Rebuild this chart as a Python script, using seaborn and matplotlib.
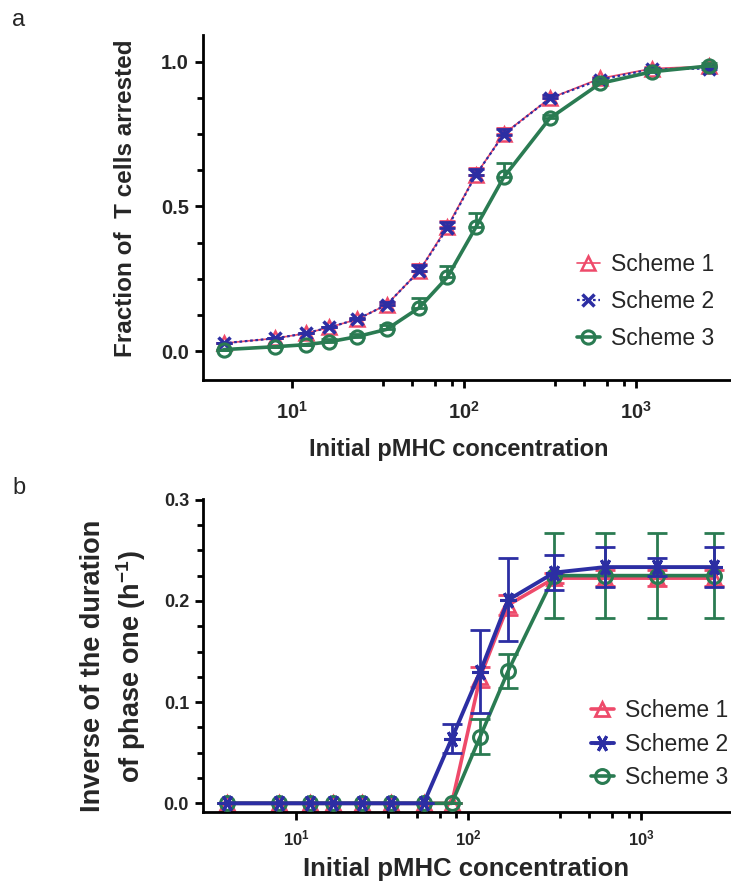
import numpy as np
import pandas as pd
import matplotlib
matplotlib.use("Agg")
import matplotlib.pyplot as plt
import matplotlib.ticker as mticker
import seaborn as sns

# ---------------- data ----------------
conc = [4, 8, 12, 16.5, 24, 35.5, 55, 80, 117, 170, 315, 620, 1240, 2650]
schemes = ["Scheme 1", "Scheme 2", "Scheme 3"]

# panel a: fraction of T cells arrested
frac_s1 = [0.027, 0.044, 0.061, 0.082, 0.11, 0.16, 0.277, 0.43, 0.608, 0.75, 0.873, 0.942, 0.976, 0.984]
frac_s2 = [0.027, 0.044, 0.061, 0.082, 0.11, 0.16, 0.277, 0.425, 0.608, 0.748, 0.873, 0.938, 0.974, 0.976]
frac_s3 = [0.005, 0.015, 0.022, 0.032, 0.05, 0.075, 0.15, 0.255, 0.427, 0.60, 0.804, 0.925, 0.965, 0.985]
frac_err_s1 = [0, 0, 0, 0, 0.005, 0.01, 0.025, 0.02, 0.025, 0.02, 0.01, 0.005, 0.005, 0.005]
frac_err_s2 = [0, 0, 0, 0, 0.005, 0.01, 0.02, 0.02, 0.02, 0.02, 0.01, 0.005, 0.005, 0.005]
frac_err_s3 = [0, 0, 0, 0.01, 0.01, 0.015, 0.035, 0.04, 0.05, 0.05, 0.01, 0.01, 0.01, 0.01]

# panel b: inverse duration of phase one (1/h)
inv_s1 = [0, 0, 0, 0, 0, 0, 0, 0, 0.125, 0.196, 0.2225, 0.2225, 0.2225, 0.2225]
inv_s2 = [0, 0, 0, 0, 0, 0, 0, 0.064, 0.130, 0.201, 0.228, 0.2334, 0.2334, 0.2334]
inv_s3 = [0, 0, 0, 0, 0, 0, 0, 0, 0.066, 0.131, 0.225, 0.225, 0.225, 0.225]
inv_err_s1 = [0, 0, 0, 0, 0, 0, 0, 0, 0.01, 0.01, 0.005, 0.008, 0.008, 0.008]
inv_err_s2 = [0, 0, 0, 0, 0, 0, 0, 0.014, 0.041, 0.041, 0.017, 0.02, 0.009, 0.02]
inv_err_s3 = [0, 0, 0, 0, 0, 0, 0, 0, 0.017, 0.017, 0.042, 0.042, 0.042, 0.042]

xtick_vals = [10, 100, 1000]
xtick_labels = ["$10^{1}$", "$10^{2}$", "$10^{3}$"]

# ---------------- style ----------------
sns.set_theme(style="ticks")
plt.rcParams["font.family"] = ["Liberation Sans", "DejaVu Sans"]
plt.rcParams["mathtext.fontset"] = "custom"
plt.rcParams["mathtext.rm"] = "Liberation Sans:bold"
plt.rcParams["mathtext.bf"] = "Liberation Sans:bold"
plt.rcParams["mathtext.it"] = "Liberation Sans:bold"
plt.rcParams["mathtext.default"] = "bf"

RED = "#ee4a6a"
BLUE = "#2c2ea3"
GREEN = "#2a7b52"

W, H = 731, 884
fig = plt.figure(figsize=(W / 100, H / 100), dpi=100)

def px_axes(left, top, right, bottom):
    return fig.add_axes([left / W, 1 - bottom / H, (right - left) / W, (bottom - top) / H])

ax_a = px_axes(203, 35, 760, 380)
ax_b = px_axes(203, 499, 760, 812)

def style_axis(ax, xlim, ylim, ymajor, yminor, xlabelsize, ylabelsize, xpad, ypad):
    ax.set_xscale("log")
    ax.set_xlim(*xlim)
    ax.set_ylim(*ylim)
    for s in ["top", "right"]:
        ax.spines[s].set_visible(False)
    for s in ["left", "bottom"]:
        ax.spines[s].set_linewidth(2.0)
        ax.spines[s].set_color("black")
    ax.xaxis.set_major_locator(mticker.FixedLocator(xtick_vals))
    ax.xaxis.set_major_formatter(mticker.FixedFormatter(xtick_labels))
    minors = [m * d for d in (10, 100) for m in (3.4, 5.0, 6.8, 8.5)]
    ax.xaxis.set_minor_locator(mticker.FixedLocator(minors))
    ax.xaxis.set_minor_formatter(mticker.NullFormatter())
    ax.yaxis.set_major_locator(mticker.MultipleLocator(ymajor))
    ax.yaxis.set_minor_locator(mticker.MultipleLocator(yminor))
    ax.yaxis.set_major_formatter(mticker.FormatStrFormatter("%.1f"))
    ax.tick_params(axis="both", which="major", direction="out", length=6, width=2, color="black")
    ax.tick_params(axis="both", which="minor", direction="out", length=4, width=2, color="black")
    ax.tick_params(axis="x", which="major", pad=xpad, labelsize=xlabelsize)
    ax.tick_params(axis="y", which="major", pad=ypad, labelsize=ylabelsize)
    for lab in ax.get_xticklabels() + ax.get_yticklabels():
        lab.set_fontweight("bold")

# ---------------- panel a ----------------
df_a = pd.DataFrame({
    "conc": conc * 3,
    "value": frac_s1 + frac_s2 + frac_s3,
    "err": frac_err_s1 + frac_err_s2 + frac_err_s3,
    "scheme": [s for s in schemes for _ in conc],
})
style_a = {
    "Scheme 1": dict(color=RED, marker="^", ls="-", lw=1.2, ms=10, mew=1.8, z=2),
    "Scheme 2": dict(color=BLUE, marker="x", ls=(0, (1.2, 1.2)), lw=1.6, ms=9, mew=2.5, z=3),
    "Scheme 3": dict(color=GREEN, marker="o", ls="-", lw=2.6, ms=9.5, mew=2.2, z=4),
}
for s in schemes:
    d = df_a[df_a["scheme"] == s]
    st = style_a[s]
    ax_a.errorbar(d["conc"], d["value"], yerr=[np.zeros(len(d)), d["err"]], fmt="none",
                  ecolor=st["color"], elinewidth=2, capsize=6, capthick=2, zorder=st["z"])
    sns.lineplot(data=d, x="conc", y="value", ax=ax_a, color=st["color"], marker=st["marker"],
                 linestyle=st["ls"], linewidth=st["lw"], markersize=st["ms"],
                 markeredgewidth=st["mew"], markerfacecolor="none", markeredgecolor=st["color"],
                 label=s, zorder=st["z"] + 0.5, errorbar=None)

style_axis(ax_a, (10 ** 0.4826, 10 ** 3.721), (-0.100, 1.092), 0.5, 0.125, 14.5, 14.5, 9, 4)
ax_a.set_xlabel("Initial pMHC concentration", fontsize=17, fontweight="bold")
ax_a.xaxis.set_label_coords(0.46, -0.168)
ax_a.set_ylabel("Fraction of  T cells arrested", fontsize=17.5, fontweight="bold")
ax_a.yaxis.set_label_coords(-0.118, 0.527)
leg_a = ax_a.legend(loc="upper left", bbox_to_anchor=(0.655, 0.394), frameon=False,
                    fontsize=16.5, handlelength=1.0, handletextpad=0.5, labelspacing=0.6,
                    borderaxespad=0)

# ---------------- panel b ----------------
df_b = pd.DataFrame({
    "conc": conc * 3,
    "value": inv_s1 + inv_s2 + inv_s3,
    "err": inv_err_s1 + inv_err_s2 + inv_err_s3,
    "scheme": [s for s in schemes for _ in conc],
})
style_b = {
    "Scheme 1": dict(color=RED, marker="^", ls="-", lw=2.6, ms=10, mew=2.0, z=2),
    "Scheme 2": dict(color=BLUE, marker=(6, 2, 90), ls="-", lw=2.8, ms=12, mew=2.2, z=4),
    "Scheme 3": dict(color=GREEN, marker="o", ls="-", lw=2.6, ms=10, mew=2.2, z=3),
}
for s in schemes:
    d = df_b[df_b["scheme"] == s]
    st = style_b[s]
    ax_b.errorbar(d["conc"], d["value"], yerr=d["err"], fmt="none",
                  ecolor=st["color"], elinewidth=2, capsize=7, capthick=2, zorder=st["z"])
    sns.lineplot(data=d, x="conc", y="value", ax=ax_b, color=st["color"], marker=st["marker"],
                 linestyle=st["ls"], linewidth=st["lw"], markersize=st["ms"],
                 markeredgewidth=st["mew"], markerfacecolor="none", markeredgecolor=st["color"],
                 label=s, zorder=st["z"] + 0.5, errorbar=None)

style_axis(ax_b, (10 ** 0.461, 10 ** 3.69), (-0.0086, 0.3007), 0.1, 0.025, 12, 13, 6, 4)
ax_b.set_xlabel("Initial pMHC concentration", fontsize=18.5, fontweight="bold")
ax_b.xaxis.set_label_coords(0.472, -0.144)
ax_b.set_ylabel("Inverse of the duration\nof phase one (h$^{-1}$)", fontsize=19.5,
                fontweight="bold", linespacing=1.3)
ax_b.yaxis.set_label_coords(-0.099, 0.466)
leg_b = ax_b.legend(loc="upper left", bbox_to_anchor=(0.68, 0.391), frameon=False,
                    fontsize=16.5, handlelength=1.0, handletextpad=0.5, labelspacing=0.47,
                    borderaxespad=0)

fig.text(12 / W, 1 - 20 / H, "a", fontsize=17, va="center", ha="left")
fig.text(12 / W, 1 - 488 / H, "b", fontsize=17, va="center", ha="left")

fig.savefig("out.png", dpi=100)
